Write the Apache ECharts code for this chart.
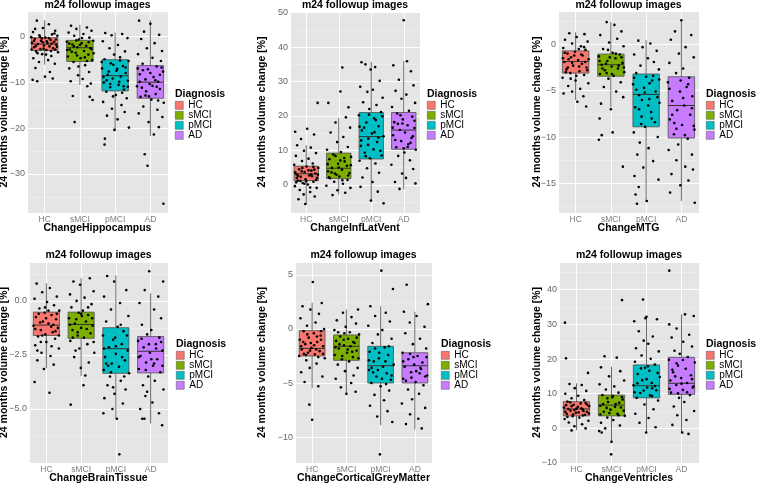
<!DOCTYPE html>
<html>
<head>
<meta charset="utf-8">
<script src="https://cdn.jsdelivr.net/npm/echarts@6/dist/echarts.min.js"></script>
<style>
  html, body { margin: 0; padding: 0; background: #fff; }
  #main { width: 760px; height: 485px; }
</style>
</head>
<body>
<div id="main"></div>
<script>
// groups on the x axis and their fill colours
const cats = ['HC', 'sMCI', 'pMCI', 'AD'];
const fills = ['#F8766D', '#7CAE00', '#00BFC4', '#C77CFF'];

// box stats per group: [lower whisker, Q1, median, Q3, upper whisker]
const hipBox = [[-6.2, -3.1, -1.7, -0.3, 3.5], [-10.6, -5.5, -2.5, -0.9, 2.5], [-20.6, -11.9, -8.6, -5.1, 0.8], [-21.7, -13.5, -10.0, -6.4, 3.5]];
const ilvBox = [[-5.7, 1.2, 3.2, 5.4, 11.5], [-2.8, 1.8, 4.8, 9.2, 19.4], [-4.9, 7.5, 14.0, 21.0, 35.7], [-1.3, 10.3, 15.9, 21.0, 35.9]];
const mtgBox = [[-6.0, -3.1, -1.85, -0.7, 1.3], [-6.8, -3.44, -2.2, -1.05, 2.4], [-17.0, -8.9, -5.4, -3.2, 0.45], [-16.9, -10.1, -6.6, -3.5, 2.6]];
const btBox = [[-3.12, -1.6, -1.12, -0.52, 0.82], [-3.47, -1.73, -1.09, -0.52, 1.05], [-5.47, -3.35, -2.21, -1.24, 1.18], [-5.67, -3.33, -2.33, -1.65, 0.35]];
const cgmBox = [[-5.5, -2.5, -1.8, -0.15, 2.45], [-6.1, -2.9, -1.6, -0.55, 1.8], [-8.9, -5.0, -3.4, -1.6, 2.1], [-9.3, -5.0, -3.4, -2.2, 1.6]];
const venBox = [[-0.5, 3.6, 5.6, 7.7, 13.0], [-3.8, 3.6, 6.7, 9.6, 17.8], [-1.25, 8.8, 12.3, 18.3, 32.2], [-1.4, 9.8, 13.0, 20.5, 32.9]];

// jittered subjects: [x (group 1..4 + jitter), change %]
const hipHC = [[0.78,3.4],[1.12,2.6],[0.95,1.8],[1.3,1.2],[0.67,0.9],[1.21,0.4],[0.85,0.2],[1.36,0.1],[1.02,-0.3],[0.72,-0.6],[1.17,-0.8],[0.9,-1.0],[1.27,-1.2],[0.64,-1.4],[1.08,-1.5],[0.81,-1.7],[1.33,-1.8],[0.98,-2.0],[1.14,-2.2],[0.7,-2.4],[1.24,-2.6],[0.88,-2.8],[1.05,-3.0],[0.76,-3.3],[1.38,-3.5],[0.93,-3.9],[1.19,-4.3],[0.68,-4.8],[1.1,-5.2],[0.84,-5.6],[1.29,-6.0],[0.74,-6.9],[1.15,-7.8],[0.66,-9.5],[0.79,-9.8],[1.01,-8.8],[1.23,-9.2],[0.92,-0.5],[1.2,-1.6],[0.75,-2.1],[1.32,-0.7],[0.97,-2.7],[1.06,-1.1],[0.62,-0.2],[0.7,-1.0],[1.35,-2.3],[0.87,-0.1],[1.18,-3.2],[0.95,-1.3],[1.28,0.6],[0.63,-2.9],[1.04,-4.0],[0.8,-3.7],[1.3,-2.9],[0.73,1.6],[1.12,-0.4]];
const hipSMCI = [[1.75,2.3],[2.2,1.9],[1.9,1.6],[2.33,1.2],[1.68,0.8],[2.1,0.5],[1.84,0.1],[2.27,-0.3],[1.97,-0.7],[2.38,-1.0],[1.63,-1.2],[2.05,-1.5],[1.79,-1.8],[2.18,-2.1],[1.93,-2.4],[2.3,-2.6],[1.71,-2.9],[2.12,-3.2],[1.88,-3.6],[2.24,-4.0],[1.66,-4.4],[2.02,-4.8],[2.35,-5.2],[1.82,-5.6],[2.15,-6.3],[1.7,-7.0],[2.26,-7.8],[1.95,-8.5],[2.08,-9.3],[1.74,-9.8],[2.31,-10.3],[2.21,-10.9],[1.8,-13.0],[2.28,-13.2],[2.36,-13.9],[1.85,-18.7],[2.0,-1.9],[1.77,-3.4],[2.25,-1.3],[1.92,-4.2],[1.7,-1.6],[2.33,-2.8],[1.9,-0.9],[2.14,-4.6],[1.64,-3.0],[2.06,-0.4],[2.39,-3.7],[1.83,-2.2],[2.2,-5.4],[1.96,-6.6]];
const hipPMCI = [[2.72,0.7],[3.2,0.5],[2.9,0.2],[3.35,-0.4],[2.65,-1.1],[3.08,-1.9],[2.84,-2.6],[3.28,-3.3],[2.97,-4.0],[3.14,-4.6],[2.7,-5.0],[3.38,-5.4],[2.88,-5.9],[3.22,-6.5],[2.63,-7.0],[3.04,-7.5],[3.3,-8.0],[2.79,-8.4],[3.16,-8.8],[2.93,-9.2],[3.36,-9.7],[2.68,-10.1],[3.1,-10.6],[2.86,-11.1],[3.25,-11.6],[2.75,-12.1],[3.02,-12.8],[3.33,-13.5],[2.66,-14.3],[3.18,-15.0],[2.91,-15.8],[3.27,-16.5],[2.77,-17.3],[3.07,-18.1],[3.39,-19.9],[2.98,-20.4],[2.71,-22.3],[2.7,-23.6],[2.95,-6.2],[3.12,-9.9],[2.82,-7.7],[3.24,-10.9],[2.67,-8.9],[3.3,-6.8],[2.86,-10.4],[3.2,-12.3],[2.62,-5.6],[3.06,-7.1],[3.36,-11.0],[2.76,-9.6],[2.94,-13.1],[3.14,-5.3]];
const hipAD = [[3.68,3.4],[4.0,2.7],[3.82,1.0],[4.25,0.3],[3.74,-0.6],[4.12,-1.5],[3.9,-2.6],[4.33,-3.2],[3.65,-3.9],[4.06,-4.7],[4.3,-5.4],[3.78,-6.0],[4.18,-6.6],[3.93,-7.2],[4.36,-7.7],[3.7,-8.3],[4.09,-8.9],[3.86,-9.4],[4.22,-9.9],[3.98,-10.4],[3.62,-10.9],[4.27,-11.5],[3.88,-12.0],[4.15,-12.6],[3.72,-13.2],[4.03,-13.8],[4.38,-14.5],[3.8,-15.3],[4.2,-16.0],[3.67,-16.8],[4.34,-17.6],[3.95,-18.7],[4.24,-19.8],[4.1,-21.4],[3.84,-25.7],[3.92,-28.2],[4.37,-36.5],[4.0,-8.0],[3.76,-11.2],[4.14,-9.6],[3.64,-7.0],[4.27,-8.4],[3.86,-12.9],[4.18,-11.0],[3.7,-9.9],[4.32,-6.8],[3.96,-13.1],[4.06,-10.8],[3.79,-7.4],[4.22,-14.0]];

const ilvHC = [[0.66,15.4],[1.03,16.3],[1.24,14.6],[0.84,13.3],[1.35,23.8],[0.72,11.5],[1.14,10.8],[0.93,9.9],[1.3,9.2],[0.68,8.4],[1.07,7.6],[0.87,6.9],[1.2,6.2],[0.63,5.8],[1.01,5.3],[1.37,4.9],[0.78,4.5],[1.16,4.1],[0.95,3.7],[1.28,3.3],[0.7,3.0],[1.09,2.7],[0.83,2.3],[1.33,2.0],[0.98,1.6],[0.74,1.2],[1.22,0.9],[0.89,0.5],[1.05,0.1],[0.65,-0.4],[1.32,-0.9],[0.8,-1.5],[1.12,-2.1],[0.92,-2.8],[1.26,-3.4],[0.76,-4.2],[0.97,-5.6],[1.18,2.5],[0.86,3.9],[1.0,1.0],[0.71,2.0],[1.25,4.4],[0.66,3.6],[1.3,1.4],[0.88,4.9],[1.15,3.0],[0.94,0.3],[1.22,5.2],[0.75,2.6],[1.36,2.9],[0.82,1.1],[1.07,4.2],[0.69,0.7],[1.12,-0.8]];
const ilvSMCI = [[2.11,34.1],[2.05,27.1],[1.68,23.8],[2.3,22.5],[2.22,19.6],[1.9,18.1],[2.35,16.6],[1.75,15.2],[2.14,13.9],[1.95,12.4],[2.28,11.0],[1.64,10.2],[2.07,9.5],[1.83,8.8],[2.38,8.1],[1.71,7.4],[2.18,6.8],[1.98,6.1],[2.25,5.5],[1.79,4.9],[2.1,4.4],[1.67,3.9],[2.33,3.4],[1.93,2.9],[2.02,2.4],[1.73,1.9],[2.27,1.4],[1.86,0.9],[2.13,0.3],[1.62,-0.3],[2.36,-0.9],[1.96,-1.6],[2.2,-2.3],[1.81,-3.0],[2.0,5.0],[1.88,3.3],[2.17,7.8],[1.66,6.0],[2.29,2.7],[1.9,8.4],[2.11,1.3],[1.78,3.6],[2.37,5.7],[2.05,7.1],[1.7,2.2]];
const ilvPMCI = [[2.7,35.6],[2.82,35.0],[3.12,34.2],[2.98,33.5],[3.26,30.2],[2.66,28.5],[3.05,27.6],[2.88,27.0],[3.35,25.3],[2.75,24.0],[3.16,23.2],[2.94,22.0],[3.3,21.1],[2.62,20.2],[3.09,19.3],[2.85,18.1],[3.22,17.0],[2.71,15.8],[3.02,14.9],[3.38,14.1],[2.91,13.4],[3.18,12.4],[2.68,11.3],[3.07,10.3],[2.8,9.3],[3.32,8.5],[2.96,7.7],[2.64,7.0],[3.13,6.2],[2.87,4.8],[3.24,3.5],[2.73,2.1],[3.04,0.8],[2.67,-0.6],[3.2,-2.0],[2.99,-4.6],[3.38,-5.4],[2.78,16.6],[3.14,18.8],[2.9,11.6],[2.64,16.9],[3.34,19.9],[2.83,8.3],[3.1,15.3],[2.69,12.9],[3.28,9.9],[2.93,20.4],[3.22,13.7]];
const ilvAD = [[4.0,47.8],[3.68,34.7],[4.1,35.9],[4.22,33.0],[3.85,30.5],[4.3,28.9],[3.75,27.3],[4.08,26.2],[3.93,25.0],[4.35,23.8],[3.64,22.6],[4.16,21.5],[3.8,20.7],[4.26,19.8],[3.97,19.0],[3.71,18.2],[4.12,17.3],[4.33,16.5],[3.88,15.9],[4.04,15.2],[3.67,14.4],[4.24,13.6],[3.92,12.7],[4.14,11.8],[3.77,10.9],[4.37,10.2],[4.02,9.4],[3.83,8.4],[4.19,7.1],[3.62,5.8],[4.29,4.6],[3.95,3.3],[4.07,2.0],[3.73,0.8],[4.36,0.4],[3.87,-1.2],[3.96,17.8],[4.21,12.2],[3.66,16.6],[4.28,14.1],[3.9,20.2],[4.12,11.0],[3.74,13.0],[4.33,18.6],[4.0,10.6],[3.82,17.7]];

const mtgHC = [[0.82,1.2],[1.25,1.1],[1.03,0.8],[0.7,0.5],[1.34,0.3],[0.9,0.1],[1.15,-0.2],[0.65,-0.4],[1.28,-0.6],[0.98,-0.8],[0.77,-1.0],[1.2,-1.2],[0.87,-1.4],[1.37,-1.6],[1.07,-1.7],[0.68,-1.9],[1.18,-2.1],[0.93,-2.3],[1.31,-2.5],[0.74,-2.7],[1.11,-2.9],[0.85,-3.1],[1.24,-3.3],[0.63,-3.6],[1.0,-3.9],[1.36,-4.2],[0.79,-4.5],[1.13,-4.8],[0.9,-5.1],[0.66,-5.3],[1.22,-5.6],[1.05,-6.2],[1.3,-6.7],[0.96,-1.2],[1.1,-2.4],[0.8,-1.6],[1.27,-1.9],[0.72,-3.0],[0.69,-0.9],[1.33,-2.8],[0.9,-2.0],[1.16,-1.1],[0.78,-2.5],[1.24,-0.3],[1.02,-3.4],[0.64,-1.5],[1.09,-0.5],[0.86,-3.7]];
const mtgSMCI = [[1.88,2.4],[2.1,2.1],[2.3,1.4],[1.7,1.0],[2.18,0.6],[1.95,0.2],[2.36,-0.2],[1.78,-0.5],[2.05,-0.9],[2.25,-1.1],[1.66,-1.3],[2.13,-1.5],[1.9,-1.8],[2.33,-2.0],[1.74,-2.2],[2.02,-2.4],[2.2,-2.6],[1.83,-2.8],[2.38,-3.0],[1.69,-3.2],[2.08,-3.4],[1.93,-3.7],[2.28,-4.1],[1.8,-4.6],[2.15,-5.1],[2.35,-5.7],[1.72,-6.4],[2.0,-7.0],[1.68,-8.0],[1.74,-9.8],[1.66,-10.3],[2.05,-9.5],[2.34,-13.2],[1.97,-1.4],[2.22,-2.3],[1.86,-2.1],[1.68,-1.8],[2.3,-1.4],[1.88,-3.1],[2.14,-1.0],[1.76,-2.6],[2.37,-2.5],[2.03,-3.2],[1.92,-0.6]];
const mtgPMCI = [[2.78,0.4],[3.12,0.1],[2.9,-0.3],[3.3,-0.7],[2.66,-1.1],[3.05,-1.5],[3.22,-1.9],[2.84,-2.3],[3.36,-2.7],[2.72,-3.1],[3.0,-3.5],[3.17,-3.9],[2.63,-4.3],[2.94,-4.7],[3.27,-5.1],[2.8,-5.5],[3.09,-5.9],[3.38,-6.3],[2.69,-6.8],[3.14,-7.3],[2.87,-7.8],[3.25,-8.4],[2.97,-8.9],[2.65,-9.5],[3.33,-10.0],[2.82,-10.6],[3.07,-11.2],[2.75,-11.9],[3.2,-12.6],[2.92,-13.3],[2.67,-14.2],[3.35,-14.6],[2.79,-15.4],[2.7,-16.2],[3.02,-16.9],[2.74,-17.2],[3.1,-4.2],[2.88,-6.0],[3.2,-3.4],[2.96,-5.2],[2.66,-3.6],[3.32,-5.7],[2.8,-7.0],[3.16,-8.0],[2.72,-4.9],[3.06,-6.6],[3.37,-3.8],[2.86,-8.6]];
const mtgAD = [[4.0,2.6],[3.82,1.4],[4.28,1.0],[3.7,0.5],[4.12,-0.3],[3.93,-1.0],[4.35,-1.4],[3.66,-2.0],[4.05,-2.6],[3.85,-3.1],[4.22,-3.6],[3.62,-4.1],[4.15,-4.6],[3.96,-5.1],[4.31,-5.6],[3.74,-6.1],[4.08,-6.6],[3.88,-7.1],[4.25,-7.6],[3.67,-8.1],[4.02,-8.7],[4.37,-9.2],[3.79,-9.7],[4.18,-10.2],[3.91,-10.8],[3.64,-11.4],[4.3,-11.9],[3.86,-12.5],[4.11,-13.2],[3.72,-14.0],[4.2,-14.7],[3.97,-15.2],[4.33,-13.5],[3.68,-16.0],[4.38,-17.1],[4.05,-5.8],[3.8,-8.5],[3.66,-4.8],[4.3,-6.9],[3.86,-9.1],[4.19,-4.3],[3.74,-7.6],[4.35,-8.8],[3.98,-3.9],[4.1,-9.8]];

const btHC = [[0.72,0.8],[1.1,0.6],[0.88,0.4],[1.3,0.2],[0.66,0.1],[1.02,-0.05],[1.22,-0.2],[0.8,-0.35],[1.37,-0.45],[0.95,-0.55],[1.15,-0.65],[0.7,-0.75],[1.28,-0.85],[0.9,-0.95],[1.06,-1.05],[0.63,-1.15],[1.33,-1.25],[0.84,-1.35],[1.18,-1.45],[0.97,-1.55],[0.76,-1.65],[1.25,-1.75],[1.0,-1.9],[0.68,-2.05],[1.36,-2.2],[0.86,-2.4],[1.12,-2.55],[0.74,-2.75],[1.21,-2.95],[0.93,-3.15],[0.66,-3.75],[1.09,-4.25],[0.99,-0.8],[1.14,-1.2],[0.82,-1.0],[1.26,-1.4],[0.78,-0.6],[0.68,-1.3],[1.3,-0.6],[0.88,-1.6],[1.2,-1.1],[0.96,-0.3],[1.36,-1.6],[0.74,-2.3],[1.06,-0.45],[0.84,-1.9],[1.15,-2.1]];
const btSMCI = [[1.78,0.9],[2.25,1.05],[1.97,0.75],[2.36,0.45],[1.68,0.3],[2.1,0.15],[1.87,0.0],[2.3,-0.15],[1.72,-0.3],[2.05,-0.45],[1.93,-0.55],[2.2,-0.65],[1.65,-0.8],[2.14,-0.95],[1.82,-1.05],[2.33,-1.15],[2.0,-1.25],[1.75,-1.35],[2.27,-1.5],[1.9,-1.6],[2.08,-1.7],[1.69,-1.85],[2.18,-2.0],[1.95,-2.2],[2.38,-2.4],[1.8,-2.6],[2.22,-2.85],[1.99,-3.1],[2.12,-3.45],[2.07,-3.9],[1.7,-4.8],[1.86,-0.85],[2.16,-1.3],[2.02,-0.7],[1.68,-1.1],[2.32,-0.8],[1.9,-1.45],[2.2,-0.3],[1.76,-1.7],[2.36,-1.9],[2.0,-0.6],[1.84,-2.3]];
const btPMCI = [[2.75,1.15],[2.95,0.9],[3.3,0.5],[2.66,0.2],[3.12,-0.1],[2.86,-0.4],[3.36,-0.7],[2.72,-0.95],[3.05,-1.2],[3.22,-1.4],[2.63,-1.6],[2.92,-1.8],[3.17,-2.0],[2.8,-2.15],[3.34,-2.3],[3.0,-2.45],[2.69,-2.6],[3.26,-2.75],[2.88,-2.9],[3.09,-3.05],[2.65,-3.2],[3.38,-3.35],[2.83,-3.5],[3.14,-3.7],[2.76,-3.9],[3.28,-4.1],[2.96,-4.3],[2.67,-4.5],[3.2,-4.75],[2.9,-5.0],[2.64,-5.2],[3.03,-5.45],[3.1,-7.1],[2.98,-1.7],[3.18,-2.6],[2.78,-3.0],[2.66,-2.2],[3.32,-1.6],[2.86,-3.3],[3.14,-1.1],[2.72,-2.9],[3.24,-3.5],[3.0,-2.1],[2.92,-4.0]];
const btAD = [[3.96,1.37],[4.36,0.9],[3.83,0.5],[4.22,0.2],[3.68,-0.1],[4.1,-0.4],[4.3,-0.8],[3.75,-1.1],[4.02,-1.35],[3.9,-1.55],[4.25,-1.7],[3.64,-1.85],[4.15,-2.0],[3.8,-2.15],[4.34,-2.3],[3.98,-2.4],[3.71,-2.55],[4.19,-2.7],[3.87,-2.85],[4.07,-3.0],[3.66,-3.15],[4.28,-3.3],[3.93,-3.5],[4.12,-3.7],[3.78,-3.9],[4.37,-4.1],[3.85,-4.4],[4.05,-4.7],[3.7,-5.0],[4.24,-5.2],[3.82,-5.45],[3.76,-5.45],[4.33,-5.75],[3.95,-2.0],[4.1,-2.9],[3.66,-2.6],[4.3,-1.9],[3.86,-3.2],[4.16,-2.2],[3.74,-1.75],[4.34,-3.0],[4.02,-2.7],[3.9,-4.2]];

const cgmHC = [[1.02,4.35],[1.28,2.4],[0.72,2.1],[0.95,1.8],[1.2,1.4],[0.66,1.0],[1.1,0.6],[0.85,0.3],[1.35,0.0],[0.75,-0.2],[1.05,-0.4],[1.25,-0.6],[0.9,-0.8],[0.64,-1.0],[1.15,-1.2],[0.8,-1.4],[1.32,-1.6],[0.98,-1.75],[0.7,-1.9],[1.22,-2.05],[0.88,-2.2],[1.08,-2.35],[0.62,-2.5],[1.37,-2.7],[0.83,-2.9],[1.13,-3.2],[0.93,-3.6],[0.68,-4.0],[1.3,-4.4],[0.78,-4.9],[1.18,-5.3],[0.92,-7.0],[1.0,-8.4],[0.96,-1.3],[1.12,-1.9],[0.76,-2.3],[1.26,-1.0],[0.68,-1.6],[1.32,-2.3],[0.86,-0.5],[1.18,-2.6],[0.94,-2.0],[1.26,-0.2],[0.74,-1.2],[1.06,-1.5],[0.82,-2.4],[1.14,-0.7]];
const cgmSMCI = [[2.34,1.8],[1.9,1.5],[2.15,1.1],[1.72,0.8],[2.28,0.5],[1.98,0.2],[1.65,-0.1],[2.1,-0.3],[2.37,-0.5],[1.82,-0.7],[2.05,-0.9],[1.7,-1.1],[2.24,-1.3],[1.93,-1.5],[2.12,-1.6],[1.78,-1.8],[2.3,-2.0],[2.02,-2.2],[1.66,-2.4],[2.19,-2.6],[1.87,-2.8],[2.08,-3.0],[1.75,-3.3],[2.33,-3.6],[1.96,-3.9],[2.21,-4.3],[1.69,-4.6],[2.14,-5.0],[1.84,-5.4],[2.27,-5.8],[2.0,-6.0],[1.92,-1.0],[2.17,-2.1],[1.8,-1.4],[1.68,-1.7],[2.3,-0.8],[1.88,-2.5],[2.2,-1.2],[1.76,-0.3],[2.35,-2.7],[2.04,-1.9],[1.94,-0.4]];
const cgmPMCI = [[3.02,5.4],[3.36,3.7],[2.7,2.1],[3.15,1.5],[2.84,1.2],[3.27,0.7],[2.64,0.3],[3.05,-0.1],[2.92,-0.5],[3.32,-0.9],[2.76,-1.3],[3.12,-1.7],[2.68,-2.1],[3.22,-2.4],[2.95,-2.7],[2.8,-3.0],[3.38,-3.3],[3.07,-3.5],[2.66,-3.8],[3.18,-4.1],[2.88,-4.4],[3.3,-4.7],[2.73,-5.0],[3.0,-5.3],[3.25,-5.7],[2.82,-6.1],[3.1,-6.6],[2.69,-7.1],[3.2,-7.6],[2.9,-8.1],[3.34,-8.6],[2.98,-11.6],[2.96,-2.2],[3.14,-3.0],[2.78,-4.0],[2.66,-2.9],[3.32,-4.3],[2.84,-1.8],[3.16,-5.1],[2.74,-3.6],[3.24,-1.6],[3.04,-4.6],[2.92,-3.8]];
const cgmAD = [[3.76,4.1],[4.38,2.3],[3.68,1.6],[4.05,1.2],[3.85,0.6],[4.28,0.2],[3.72,-0.4],[4.15,-0.9],[3.94,-1.4],[4.33,-1.8],[3.64,-2.2],[4.08,-2.5],[3.81,-2.8],[4.22,-3.1],[3.98,-3.3],[3.7,-3.5],[4.18,-3.7],[3.89,-4.0],[4.36,-4.3],[3.66,-4.6],[4.02,-4.9],[4.25,-5.2],[3.8,-5.6],[4.12,-6.0],[3.92,-6.5],[3.62,-6.9],[4.3,-7.3],[3.86,-7.9],[4.1,-8.3],[3.74,-8.8],[4.2,-9.2],[3.96,-2.6],[4.14,-4.1],[3.66,-3.0],[4.3,-4.4],[3.86,-2.3],[4.16,-3.6],[3.74,-4.8],[4.34,-2.6],[4.04,-3.9],[3.9,-4.5]];

const venHC = [[0.67,30.5],[0.7,20.2],[1.33,16.0],[0.8,12.8],[1.15,12.5],[0.95,11.6],[1.28,10.8],[0.68,10.0],[1.05,9.4],[0.86,8.7],[1.22,8.2],[0.74,7.7],[1.12,7.2],[0.92,6.8],[1.36,6.4],[0.64,6.0],[1.0,5.7],[1.18,5.4],[0.83,5.1],[1.3,4.8],[0.98,4.5],[0.72,4.2],[1.24,3.9],[0.89,3.5],[1.08,3.1],[0.66,2.7],[1.34,2.2],[0.78,1.7],[1.16,1.2],[0.94,0.6],[1.26,0.0],[0.86,-0.6],[1.04,6.2],[0.9,4.0],[1.2,5.0],[0.77,5.6],[0.68,4.8],[1.3,6.9],[0.86,6.4],[1.18,3.7],[0.94,5.3],[1.26,7.3],[0.74,3.3],[1.06,4.6],[0.82,7.5],[1.14,5.8],[0.7,6.7],[1.35,4.3]];
const venSMCI = [[2.3,37.0],[1.8,20.8],[2.15,20.4],[1.7,17.6],[2.25,16.5],[1.93,15.0],[2.36,13.8],[1.66,12.7],[2.08,12.1],[1.84,11.2],[2.2,10.3],[1.74,9.6],[2.02,9.0],[2.32,8.3],[1.9,7.6],[2.12,7.0],[1.68,6.5],[2.27,6.0],[1.97,5.4],[1.78,4.8],[2.17,4.2],[2.38,3.6],[1.88,3.1],[2.05,2.4],[1.7,1.6],[2.24,0.8],[1.82,0.0],[1.65,-0.8],[1.72,-1.2],[2.0,-3.9],[1.99,-7.5],[2.1,6.2],[1.86,5.9],[2.22,7.4],[1.68,4.0],[2.3,9.0],[1.88,8.7],[2.2,3.8],[1.76,7.0],[2.35,5.1],[2.04,9.3],[1.94,4.4]];
const venPMCI = [[2.9,37.2],[2.65,30.9],[3.0,32.2],[2.97,31.8],[3.3,31.5],[2.78,28.0],[3.18,26.5],[2.92,25.3],[3.05,24.4],[2.7,23.1],[3.35,22.2],[2.86,21.0],[3.12,20.1],[2.67,19.2],[3.24,18.4],[2.96,17.5],[3.08,16.6],[2.75,15.7],[3.38,14.8],[2.88,13.9],[3.15,13.1],[2.63,12.4],[3.02,11.8],[3.28,11.0],[2.82,10.2],[3.1,9.5],[2.72,8.8],[3.33,8.0],[2.94,6.9],[3.2,5.5],[2.68,4.2],[3.06,3.0],[2.8,1.6],[3.26,0.3],[2.99,-1.2],[3.0,14.2],[3.16,11.6],[2.66,10.4],[3.32,16.0],[2.84,17.3],[3.16,9.3],[2.74,13.0],[3.24,12.2],[3.04,17.9],[2.92,10.9]];
const venAD = [[3.65,45.5],[3.65,30.0],[4.1,32.9],[4.35,32.4],[3.86,28.8],[4.22,27.0],[3.72,26.2],[4.05,25.0],[4.3,23.6],[3.8,22.4],[3.95,21.5],[4.18,20.6],[3.64,19.8],[4.38,19.0],[3.9,18.1],[4.12,17.2],[3.76,16.2],[4.27,15.3],[3.99,14.5],[3.68,13.8],[4.16,13.1],[3.85,12.5],[4.32,11.8],[4.04,11.1],[3.7,10.3],[4.24,9.6],[3.93,8.8],[4.08,7.6],[3.78,6.3],[4.36,5.0],[3.88,3.8],[4.14,2.4],[3.74,1.0],[4.2,-1.6],[4.02,-1.2],[4.0,12.9],[3.82,15.0],[3.66,11.4],[4.3,14.2],[3.86,18.8],[4.16,10.4],[3.74,16.9],[4.34,12.1],[4.04,19.7],[3.9,10.1]];

// panel layout (pixels) + y ranges
const panels = [
  { xName: 'ChangeHippocampus', box: hipBox, pts: [hipHC, hipSMCI, hipPMCI, hipAD], yMin: -38.5, yMax: 5.5,
    grid: { left: 27, top: 11, width: 141, height: 202 }, nameGap: 17.2, legendX: 175, row: 0 },
  { xName: 'ChangeInfLatVent', box: ilvBox, pts: [ilvHC, ilvSMCI, ilvPMCI, ilvAD], yMin: -8.2, yMax: 50.5,
    grid: { left: 290, top: 11, width: 130, height: 202 }, nameGap: 22.2, legendX: 427, row: 0 },
  { xName: 'ChangeMTG', box: mtgBox, pts: [mtgHC, mtgSMCI, mtgPMCI, mtgAD], yMin: -18.2, yMax: 3.6,
    grid: { left: 558, top: 11, width: 141, height: 202 }, nameGap: 15.6, legendX: 706, row: 0 },
  { xName: 'ChangeBrainTissue', box: btBox, pts: [btHC, btSMCI, btPMCI, btAD], yMin: -7.5, yMax: 1.8, interval: 2.5, fixed: 1,
    grid: { left: 29, top: 262, width: 139, height: 201 }, nameGap: 19.2, legendX: 176, row: 1 },
  { xName: 'ChangeCorticalGreyMatter', box: cgmBox, pts: [cgmHC, cgmSMCI, cgmPMCI, cgmAD], yMin: -12.4, yMax: 6.2, splitNumber: 4,
    grid: { left: 295, top: 262, width: 137, height: 201 }, nameGap: 27.8, legendX: 441, row: 1 },
  { xName: 'ChangeVentricles', box: venBox, pts: [venHC, venSMCI, venPMCI, venAD], yMin: -10, yMax: 48, showMin: true,
    grid: { left: 559, top: 262, width: 140, height: 201 }, nameGap: 16.8, legendX: 706, row: 1 }
];

const font = '"Liberation Sans", Arial, Helvetica, sans-serif';
const tickGrey = '#666666';
const halfBox = 0.375; // ggplot default box width 0.75

// ggplot-like box: whiskers without caps, filled box, median line
function renderBox(params, api) {
  const x = api.value(0);
  const lo = api.value(1), q1 = api.value(2), med = api.value(3), q3 = api.value(4), hi = api.value(5);
  const tl = api.coord([x - halfBox, q3]);
  const br = api.coord([x + halfBox, q1]);
  const mL = api.coord([x - halfBox, med]);
  const mR = api.coord([x + halfBox, med]);
  const pHi = api.coord([x, hi]), pQ3 = api.coord([x, q3]);
  const pQ1 = api.coord([x, q1]), pLo = api.coord([x, lo]);
  const whisker = { stroke: '#6b6b6b', lineWidth: 1 };
  return {
    type: 'group',
    children: [
      { type: 'line', shape: { x1: pHi[0], y1: pHi[1], x2: pQ3[0], y2: pQ3[1] }, style: whisker },
      { type: 'line', shape: { x1: pQ1[0], y1: pQ1[1], x2: pLo[0], y2: pLo[1] }, style: whisker },
      { type: 'rect', shape: { x: tl[0], y: tl[1], width: br[0] - tl[0], height: br[1] - tl[1] },
        style: { fill: fills[params.dataIndex], stroke: '#4d4d4d', lineWidth: 0.8 } },
      { type: 'line', shape: { x1: mL[0], y1: mL[1], x2: mR[0], y2: mR[1] }, style: { stroke: '#333333', lineWidth: 1 } }
    ]
  };
}

// tick text: a real minus sign reads better than a hyphen at this size
function yTickText(v, fixed) {
  const s = fixed ? Math.abs(v).toFixed(fixed) : String(Math.abs(v));
  return v < 0 ? '\u2212' + s : s;
}

function buildOption() {
  const grids = [], xAxes = [], yAxes = [], series = [], titles = [], legends = [];

  panels.forEach(function (p, i) {
    const g = p.grid;
    grids.push({
      left: g.left, top: g.top, width: g.width, height: g.height,
      show: true, backgroundColor: '#E5E5E5', borderWidth: 0,
      containLabel: false, outerBoundsMode: 'none'
    });

    // groups sit at 1..4 on a value axis so the jitter can be plotted
    xAxes.push({
      type: 'value', gridIndex: i, position: 'bottom', min: 0.5, max: 4.5,
      axisLine: { show: false }, axisTick: { show: false },
      splitLine: { show: true, lineStyle: { color: '#ffffff', width: 1 } },
      axisLabel: {
        color: '#7f7f7f', fontSize: 8.5, margin: 2, fontFamily: font,
        showMinLabel: false, showMaxLabel: false,
        formatter: function (v) {
          const k = Math.round(v);
          return Math.abs(v - k) < 1e-6 && k >= 1 && k <= 4 ? cats[k - 1] : '';
        }
      },
      name: p.xName, nameLocation: 'middle', nameGap: 10, nameMoveOverlap: false,
      nameTextStyle: { fontWeight: 'bold', fontSize: 10.5, color: '#000', fontFamily: font }
    });

    const yAxis = {
      type: 'value', gridIndex: i, position: 'left', min: p.yMin, max: p.yMax,
      axisLine: { show: false }, axisTick: { show: false },
      splitLine: { show: true, lineStyle: { color: '#ffffff', width: 1 } },
      minorTick: { show: false, splitNumber: 2 },
      minorSplitLine: { show: true, lineStyle: { color: '#F2F2F2', width: 0.6 } },
      axisLabel: {
        color: tickGrey, fontSize: 9, margin: 2, fontFamily: font,
        showMinLabel: !!p.showMin, showMaxLabel: false,
        formatter: function (v) { return yTickText(v, p.fixed); }
      },
      name: '24 months volume change [%]', nameLocation: 'middle', nameRotate: 90,
      nameGap: p.nameGap, nameMoveOverlap: false,
      nameTextStyle: { fontWeight: 'bold', fontSize: 10.5, color: '#000', fontFamily: font }
    };
    if (p.interval) yAxis.interval = p.interval;
    if (p.splitNumber) yAxis.splitNumber = p.splitNumber;
    yAxes.push(yAxis);

    series.push({
      type: 'custom', xAxisIndex: i, yAxisIndex: i, silent: true, z: 2,
      renderItem: renderBox,
      encode: { x: 0, y: [1, 2, 3, 4, 5] },
      data: p.box.map(function (b, k) { return [k + 1].concat(b); })
    });

    p.pts.forEach(function (pts, k) {
      series.push({
        type: 'scatter', name: cats[k], xAxisIndex: i, yAxisIndex: i,
        silent: true, symbolSize: 2.6, z: 3,
        itemStyle: { color: '#000000', opacity: 1 },
        data: pts
      });
    });

    const rowTop = p.row === 0 ? 0 : 250;
    titles.push({
      text: 'm24 followup images', left: g.left + g.width / 2, top: rowTop,
      textAlign: 'center', padding: 0,
      textStyle: { fontSize: 10.5, fontWeight: 'bold', color: '#000', fontFamily: font }
    });
    titles.push({
      text: 'Diagnosis', left: p.legendX, top: rowTop + 89, padding: 0,
      textStyle: { fontSize: 10.5, fontWeight: 'bold', color: '#000', fontFamily: font }
    });

    legends.push({
      orient: 'vertical', left: p.legendX, top: rowTop + 100.3, padding: 0,
      itemGap: 0, itemWidth: 8, itemHeight: 8, icon: 'rect', selectedMode: false,
      textStyle: { fontSize: 10, lineHeight: 8.4, color: '#000', fontFamily: font },
      itemStyle: { borderColor: '#555555', borderWidth: 0.5 },
      data: cats.map(function (c, k) { return { name: c, itemStyle: { color: fills[k] } }; })
    });
  });

  return {
    animation: false,
    backgroundColor: '#ffffff',
    textStyle: { fontFamily: font },
    title: titles,
    legend: legends,
    grid: grids,
    xAxis: xAxes,
    yAxis: yAxes,
    series: series
  };
}

const chart = echarts.init(document.getElementById('main'), null, { renderer: 'canvas' });
chart.setOption(buildOption());
</script>
</body>
</html>
